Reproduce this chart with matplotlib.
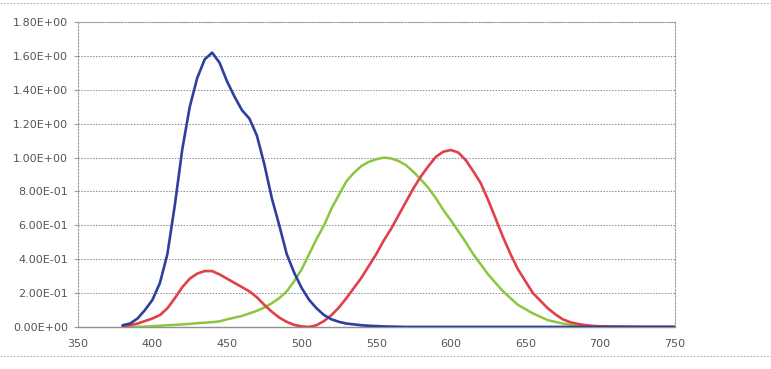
import numpy as np
import matplotlib
matplotlib.use("Agg")
import matplotlib.pyplot as plt
from matplotlib.ticker import FuncFormatter, MultipleLocator
from matplotlib.lines import Line2D

# wavelength grid (nm)
wl = list(range(380, 755, 5))

# blue curve
blue = [0.01, 0.02, 0.05, 0.10, 0.16, 0.26, 0.43, 0.72, 1.05, 1.30,
        1.47, 1.58, 1.62, 1.56, 1.45, 1.36, 1.28, 1.23, 1.13, 0.96,
        0.76, 0.60, 0.43, 0.32, 0.23, 0.16, 0.11, 0.07, 0.045, 0.03,
        0.02, 0.015, 0.01, 0.007, 0.005, 0.003, 0.002, 0.001, 0.0, 0.0,
        0.0, 0.0, 0.0, 0.0, 0.0, 0.0, 0.0, 0.0, 0.0, 0.0,
        0.0, 0.0, 0.0, 0.0, 0.0, 0.0, 0.0, 0.0, 0.0, 0.0,
        0.0, 0.0, 0.0, 0.0, 0.0, 0.0, 0.0, 0.0, 0.0, 0.0,
        0.0, 0.0, 0.0, 0.0, 0.0]

# red curve
red = [0.005, 0.01, 0.02, 0.035, 0.05, 0.07, 0.11, 0.17, 0.235, 0.285,
       0.315, 0.33, 0.33, 0.31, 0.285, 0.26, 0.235, 0.21, 0.175, 0.13,
       0.09, 0.055, 0.03, 0.012, 0.003, 0.0, 0.01, 0.035, 0.07, 0.115,
       0.17, 0.23, 0.29, 0.36, 0.43, 0.51, 0.58, 0.66, 0.74, 0.82,
       0.89, 0.95, 1.005, 1.035, 1.045, 1.03, 0.985, 0.92, 0.85, 0.75,
       0.64, 0.53, 0.43, 0.34, 0.27, 0.20, 0.155, 0.11, 0.075, 0.045,
       0.028, 0.018, 0.011, 0.006, 0.004, 0.003, 0.002, 0.0015, 0.001, 0.0005,
       0.0, 0.0, 0.0, 0.0, 0.0]

# green curve
green = [0.0, 0.0005, 0.001, 0.002, 0.004, 0.007, 0.01, 0.012, 0.015, 0.018,
         0.022, 0.025, 0.028, 0.033, 0.045, 0.055, 0.065, 0.08, 0.095, 0.115,
         0.14, 0.17, 0.21, 0.27, 0.34, 0.43, 0.52, 0.60, 0.70, 0.78,
         0.86, 0.91, 0.95, 0.975, 0.99, 1.0, 0.995, 0.98, 0.955, 0.915,
         0.87, 0.82, 0.76, 0.69, 0.63, 0.565, 0.50, 0.43, 0.37, 0.31,
         0.26, 0.21, 0.17, 0.13, 0.105, 0.08, 0.06, 0.04, 0.03, 0.02,
         0.013, 0.008, 0.005, 0.003, 0.002, 0.0015, 0.001, 0.0005, 0.0, 0.0,
         0.0, 0.0, 0.0, 0.0, 0.0]

fig = plt.figure(figsize=(7.71, 3.69), dpi=100)
ax = fig.add_axes([0.101, 0.114, 0.774, 0.826])

line_kw = dict(solid_joinstyle="round", solid_capstyle="round")
ax.plot(wl, green, color="#8cc63f", lw=1.8, zorder=3, **line_kw)
ax.plot(wl, red, color="#e0404a", lw=1.9, zorder=4, **line_kw)
ax.plot(wl, blue, color="#2e3f9e", lw=1.9, zorder=5, **line_kw)

ax.set_xlim(350, 750)
ax.set_ylim(0, 1.8)
ax.xaxis.set_major_locator(MultipleLocator(50))
ax.yaxis.set_major_locator(MultipleLocator(0.2))
ax.yaxis.set_major_formatter(FuncFormatter(lambda v, p: f"{v:.2E}"))

ax.grid(axis="y", color="#8a8a8a", linestyle=(0, (1.5, 1.5)), lw=0.7, zorder=1)
for side in ["top", "right", "left"]:
    ax.spines[side].set_color("#a0a0a0")
    ax.spines[side].set_linestyle((0, (1.5, 1.5)))
    ax.spines[side].set_linewidth(0.8)
ax.spines["bottom"].set_color("#909090")
ax.spines["bottom"].set_linewidth(1.0)

ax.tick_params(axis="y", length=3, color="#a0a0a0", labelsize=8, labelcolor="#555555", pad=4)
ax.tick_params(axis="x", length=0, labelsize=8, labelcolor="#555555", pad=9)

# dotted frame lines of the scanned page
for yy in [0.992, 0.035]:
    fig.add_artist(Line2D([0, 1], [yy, yy], transform=fig.transFigure,
                          color="#b0b0b0", lw=0.8, linestyle=(0, (1.5, 1.5))))

fig.savefig("out.png", dpi=100)
